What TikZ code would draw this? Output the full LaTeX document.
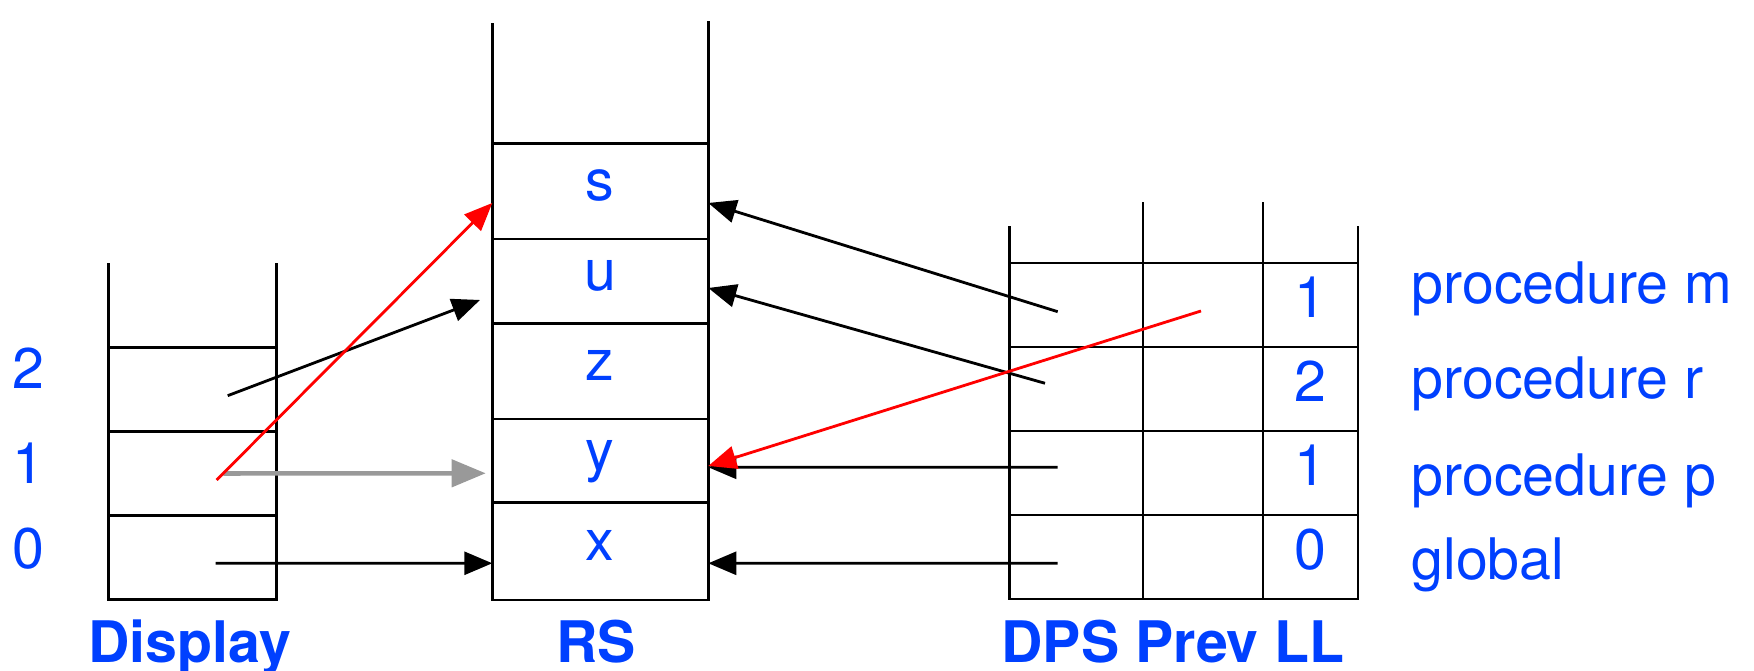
\documentclass[tikz,border=0pt]{standalone}
\usepackage{fontspec}
\setmainfont{TeX Gyre Heros}
\usetikzlibrary{positioning,arrows.meta}
\definecolor{txtblue}{RGB}{0,64,255}
\definecolor{ptrgray}{RGB}{153,153,153}

\begin{document}
\begin{tikzpicture}[line width=0.8pt,font=\fontsize{16.3pt}{19pt}\selectfont]
  \tikzset{
    cell/.style={draw,outer sep=0pt,inner sep=0pt,minimum height=8.4mm,text=txtblue},
    dcell/.style={cell,minimum width=16.84mm},
    rcell/.style={cell,minimum width=21.6mm,text height=0.53em,text depth=0pt},
    pcell/.style={cell,text height=0.72em,text depth=0pt},
    dpsa/.style={pcell,minimum width=13.37mm},
    dpsb/.style={pcell,minimum width=12mm},
    dpsc/.style={pcell,minimum width=9.5mm},
    txt/.style={inner sep=0pt,text=txtblue},
    lvl/.style={txt,text height=0.72em,text depth=0pt},
    ttl/.style={txt,font=\fontsize{16.3pt}{19pt}\selectfont\bfseries,anchor=base},
    >={Triangle[length=2.8mm,width=2.3mm]}
  }
  \useasboundingbox (0,0) rectangle (17.54,6.71);

  % Display
  \node[dcell] (d0) at (1.925,1.135) {};
  \node[dcell,above=0pt of d0] (d1) {};
  \node[dcell,above=0pt of d1] (d2) {};
  \draw (d2.north west) -- ++(0,8.48mm);
  \draw (d2.north east) -- ++(0,8.48mm);
  \node[lvl,left=6.3mm of d2,yshift=1.4mm] (lv2) {2};
  \node[lvl,left=6.3mm of d1,yshift=0.3mm] (lv1) {1};
  \node[lvl,left=6.3mm of d0,yshift=0.2mm] (lv0) {0};
  \node[ttl] (tdisp) at ([xshift=-0.28mm,yshift=-6.32mm]d0.south) {Display};

  % RS
  \node[rcell,minimum height=9.73mm] (rx) at (6.003,1.197) {x};
  \node[rcell,minimum height=8.37mm,above=0pt of rx] (ry) {y};
  \node[rcell,minimum height=9.57mm,above=0pt of ry] (rz) {z};
  \node[rcell,minimum height=8.43mm,above=0pt of rz] (ru) {u};
  \node[rcell,minimum height=9.57mm,above=0pt of ru] (rs) {s};
  \draw (rs.north west) -- ++(0,12.06mm);
  \draw (rs.north east) -- ++(0,12.26mm);
  \node[ttl] (trs) at ([xshift=-0.43mm,yshift=-6.27mm]rx.south) {RS};

  % DPS / Prev / LL
  \node[dpsa] (g1) at (10.762,1.14) {};
  \node[dpsb,right=0pt of g1] (g2) {};
  \node[dpsc,right=0pt of g2] (g3) {0};
  \node[dpsa,above=0pt of g1] (p1) {};
  \node[dpsb,right=0pt of p1] (p2) {};
  \node[dpsc,right=0pt of p2] (p3) {1};
  \node[dpsa,above=0pt of p1] (r1) {};
  \node[dpsb,right=0pt of r1] (r2) {};
  \node[dpsc,right=0pt of r2] (r3) {2};
  \node[dpsa,above=0pt of r1] (m1) {};
  \node[dpsb,right=0pt of m1] (m2) {};
  \node[dpsc,right=0pt of m2] (m3) {1};
  \draw (m1.north west) -- ++(0,3.65mm);
  \draw (m3.north east) -- ++(0,3.65mm);
  \draw (m1.north east) -- ++(0,6.05mm);
  \draw (m2.north east) -- ++(0,6.05mm);
  \node[ttl] (tdps) at ([xshift=-3mm,yshift=-6.37mm]g2.south) {DPS Prev LL};

  \node[txt,anchor=base west] (lm) at ([xshift=5.2mm,yshift=0.17mm]m3.east) {procedure m};
  \node[txt,anchor=base west] (lr) at ([xshift=5.2mm,yshift=-1mm]r3.east) {procedure r};
  \node[txt,anchor=base west] (lp) at ([xshift=5.2mm,yshift=-2.3mm]p3.east) {procedure p};
  \node[txt,anchor=base west] (lg) at ([xshift=5.2mm,yshift=-2.23mm]g3.east) {global};

  % pointer ends
  \coordinate (dt2) at ([xshift=3.52mm,yshift=-0.62mm]d2.center);
  \coordinate (dt1) at ([xshift=3.08mm]d1.center);
  \coordinate (dr1) at ([xshift=2.42mm,yshift=-0.65mm]d1.center);
  \coordinate (dt0) at ([xshift=2.32mm,yshift=-0.58mm]d0.center);
  \coordinate (mt) at ([xshift=-1.85mm,yshift=-0.67mm]m1.center);
  \coordinate (rt) at ([xshift=-3.12mm,yshift=0.57mm]r1.center);
  \coordinate (pt) at ([xshift=-1.85mm,yshift=0.57mm]p1.center);
  \coordinate (gt) at ([xshift=-1.85mm,yshift=-0.63mm]g1.center);
  \coordinate (mr) at ([xshift=-0.2mm,yshift=-0.6mm]m2.center);

  \draw[->] (dt2) -- ([xshift=-1.23mm,yshift=-1.89mm]ru.west);
  \draw[->] (dt0) -- ([yshift=-1.2mm]rx.west);
  \draw[ptrgray,line width=1.3pt,-{Triangle[length=3.4mm,width=2.7mm]}]
    (dt1) -- ([xshift=-0.66mm,yshift=-1.25mm]ry.west);
  \draw[->] (mt) -- ([yshift=-1.19mm]rs.east);
  \draw[->] (rt) -- ([yshift=-0.69mm]ru.east);
  \draw[->] (pt) -- ([yshift=-0.65mm]ry.east);
  \draw[->] (gt) -- ([yshift=-1.2mm]rx.east);
  \draw[->,red] (dr1) -- ([yshift=-1.19mm]rs.west);
  \draw[->,red] (mr) -- ([yshift=-0.52mm]ry.east);
\end{tikzpicture}
\end{document}
